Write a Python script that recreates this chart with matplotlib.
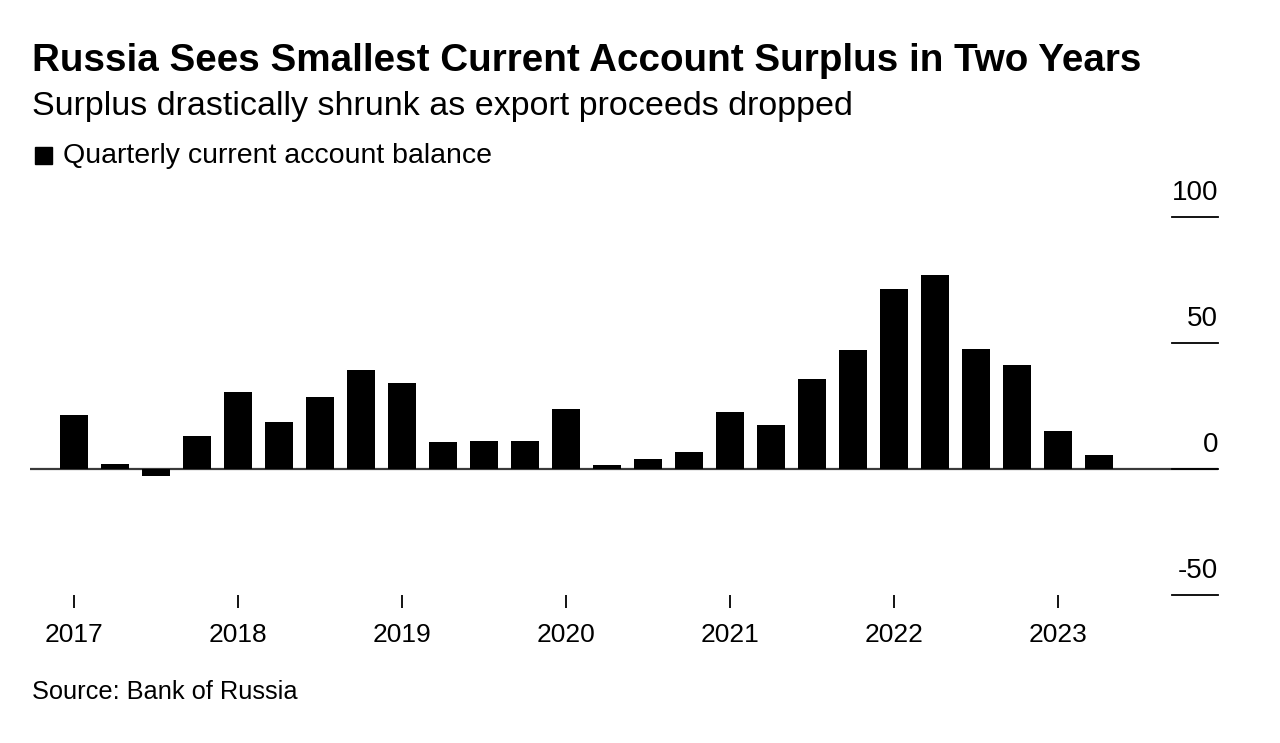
import matplotlib
matplotlib.use("Agg")
import matplotlib.pyplot as plt
from matplotlib.patches import Rectangle

# quarterly current account balance, $ billions, 2017 Q1 .. 2023 Q2
quarters = [f"{y}Q{q}" for y in range(2017, 2024) for q in range(1, 5)][:26]
balance = [21.3, 1.8, -2.9, 13.1,
           30.6, 18.6, 28.4, 39.3,
           34.0, 10.7, 11.1, 11.1,
           24.0, 1.6, 4.0, 6.7,
           22.6, 17.6, 35.8, 47.2,
           71.4, 77.0, 47.7, 41.3,
           14.9, 5.7]
year_labels = ["2017", "2018", "2019", "2020", "2021", "2022", "2023"]
y_ticks = [100, 50, 0, -50]

plt.rcParams['font.family'] = ['Liberation Sans', 'DejaVu Sans']

W, H = 1280, 743
fig = plt.figure(figsize=(W / 100, H / 100), dpi=100)
fig.patch.set_facecolor('white')

# axes box in pixels: x 30..1218, y 217..595
ax = fig.add_axes([30 / W, 1 - 595 / H, (1218 - 30) / W, (595 - 217) / H])
x = list(range(len(balance)))
ax.bar(x, balance, width=0.69, color='black', zorder=3)
ax.axhline(0, color='#3a3a3a', lw=1.6, zorder=2)

ax.set_xlim(-1.07, 27.9)
ax.set_ylim(-50, 100)
for s in ax.spines.values():
    s.set_visible(False)

ax.set_xticks([4 * i for i in range(len(year_labels))])
ax.set_xticklabels(year_labels, fontsize=19)
ax.tick_params(axis='x', length=9, width=1.3, color='black', pad=11)
ax.set_yticks([])

# value labels on the right with short rules underneath
ytr = ax.get_yaxis_transform()
for v in y_ticks:
    ax.plot([0.9613, 1.0], [v, v], transform=ytr, color='black', lw=1.3,
            clip_on=False, zorder=2)
    ax.annotate(str(v), xy=(1.0, v), xycoords=ytr, xytext=(0, 8),
                textcoords='offset points', ha='right', va='bottom',
                fontsize=20, annotation_clip=False)

fig.text(32 / W, 1 - 61 / H, "Russia Sees Smallest Current Account Surplus in Two Years",
         fontsize=27.8, fontweight='bold', va='center', ha='left')
fig.text(32 / W, 1 - 107 / H, "Surplus drastically shrunk as export proceeds dropped",
         fontsize=24.5, va='center', ha='left')
fig.patches.append(Rectangle((35 / W, 1 - 164 / H), 17 / W, 17 / H,
                             transform=fig.transFigure, color='black'))
fig.text(63 / W, 1 - 156 / H, "Quarterly current account balance",
         fontsize=20.5, va='center', ha='left')
fig.text(32 / W, 1 - 692 / H, "Source: Bank of Russia",
         fontsize=18.3, va='center', ha='left')

fig.savefig("out.png", dpi=100, facecolor='white')
